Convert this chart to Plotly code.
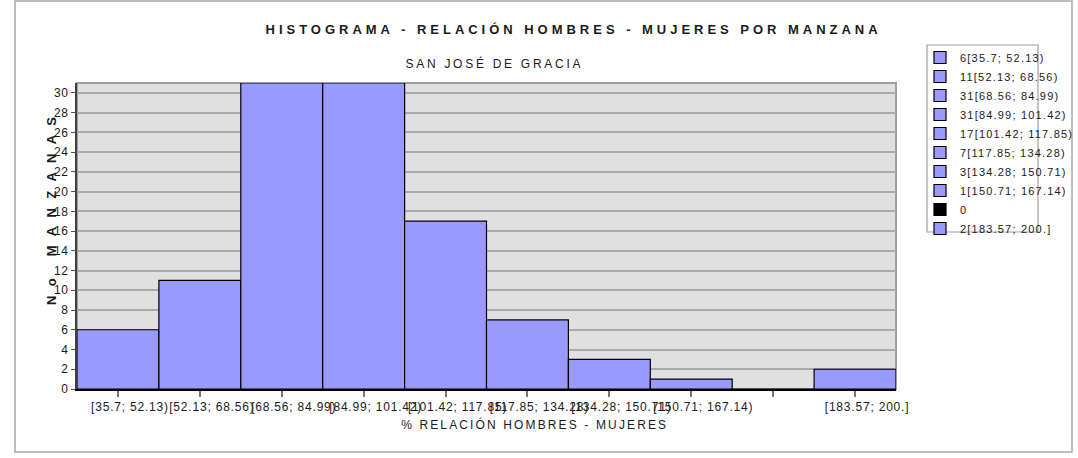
import plotly.graph_objects as go

# ---- data ----
categories = ["[35.7; 52.13)", "[52.13; 68.56)", "[68.56; 84.99)", "[84.99; 101.42)",
              "[101.42; 117.85)", "[117.85; 134.28)", "[134.28; 150.71)",
              "[150.71; 167.14)", "", "[183.57; 200.]"]
counts = [6, 11, 31, 31, 17, 7, 3, 1, 0, 2]
bar_colors = ["#9999ff"] * 8 + ["#000000", "#9999ff"]

title_text = "HISTOGRAMA - RELACIÓN HOMBRES - MUJERES POR MANZANA"
subtitle_text = "SAN JOSÉ DE GRACIA"
x_title = "% RELACIÓN HOMBRES - MUJERES"
y_title = "No MANZANAS"

FONT = "Liberation Sans, Arial, sans-serif"
W, H = 1078, 458
L, R, T, B = 77, 182, 83, 69
PW, PH = W - L - R, H - T - B


def xp(px):
    return (px - L) / PW


def yp(py):
    return (H - B - py) / PH


fig = go.Figure()
positions = list(range(len(categories)))
for i, (cat, c, col) in enumerate(zip(categories, counts, bar_colors)):
    fig.add_trace(go.Bar(
        x=[positions[i]], y=[c], width=1, name=f"{c}{cat}",
        marker=dict(color=col, line=dict(color="#000000", width=1.2)),
        showlegend=True,
    ))

ann = [
    dict(text=f"<b>{title_text}</b>", x=xp(574), y=yp(30), font=dict(size=13)),
    dict(text=subtitle_text, x=xp(495), y=yp(63), font=dict(size=12)),
    dict(text=x_title, x=xp(534), y=yp(424), font=dict(size=12)),
    dict(text=f"<b>{y_title}</b>", x=xp(51), y=yp(206), textangle=-90, font=dict(size=13)),
]
for a in ann:
    a.update(xref="paper", yref="paper", xanchor="center", yanchor="middle",
             showarrow=False)
    a["font"].update(family=FONT, color="#1a1a1a")

fig.update_layout(
    width=W, height=H,
    margin=dict(l=L, r=R, t=T, b=B, pad=0),
    paper_bgcolor="white",
    plot_bgcolor="#e0e0e0",
    barmode="overlay",
    font=dict(family=FONT, size=12, color="#1a1a1a"),
    annotations=ann,
    legend=dict(
        x=xp(920), y=yp(43), xanchor="left", yanchor="top",
        borderwidth=0, bgcolor="rgba(0,0,0,0)",
        font=dict(family=FONT, size=11, color="#1a1a1a"),
        traceorder="normal", itemclick=False, itemdoubleclick=False,
    ),
    xaxis=dict(
        range=[-0.5, len(categories) - 0.5],
        tickvals=positions, ticktext=categories,
        showgrid=False, zeroline=False,
        showline=True, linecolor="#000000", linewidth=1.5,
        ticks="outside", ticklen=6, tickcolor="#777777", tickwidth=1.5,
        tickfont=dict(family=FONT, size=12, color="#1a1a1a"),
        ticklabelshift=12, tickangle=0,
    ),
    yaxis=dict(
        range=[0, 31], dtick=2, tick0=0,
        showgrid=True, gridcolor="#aaaaaa", gridwidth=1.5,
        zeroline=False,
        showline=True, linecolor="#404040", linewidth=2,
        ticks="outside", ticklen=4, tickcolor="#555555",
        tickfont=dict(family=FONT, size=12, color="#1a1a1a"),
    ),
    shapes=[
        dict(type="rect", xref="paper", yref="paper", x0=0, x1=1, y0=0, y1=1,
             line=dict(color="#a0a0a0", width=2), layer="below"),
        dict(type="rect", xref="paper", yref="paper", x0=xp(15), x1=xp(1072),
             y0=yp(452), y1=yp(1), line=dict(color="#a8a8a8", width=1.5), layer="below"),
        dict(type="rect", xref="paper", yref="paper", x0=xp(927), x1=xp(1038),
             y0=yp(232), y1=yp(45), line=dict(color="#a0a0a0", width=1.2), layer="below"),
    ],
)

post = """
var gd = document.getElementById('{plot_id}');
document.body.style.margin = '0';
function fit(t, target){
  t.style.letterSpacing = '0px';
  var w = t.getComputedTextLength();
  var n = t.textContent.length;
  if (n > 1) { t.style.letterSpacing = ((target - w) / (n - 1)) + 'px'; }
}
function sp(){
  var a = gd.querySelectorAll('.annotation-text');
  var targets = [612, 175, 265, 188];
  a.forEach(function(t, i){ if (targets[i]) fit(t, targets[i]); });
  gd.querySelectorAll('.xtick text').forEach(function(t){ t.style.letterSpacing='0.8px'; });
  gd.querySelectorAll('.ytick text').forEach(function(t){ t.style.letterSpacing='0.6px'; });
  gd.querySelectorAll('.legendtext').forEach(function(t){ t.style.letterSpacing='1.2px'; });
  gd.querySelectorAll('.legend .scrollbox').forEach(function(e){ e.removeAttribute('clip-path'); });
  gd.querySelectorAll('.legend').forEach(function(e){ e.removeAttribute('clip-path'); });
}
sp();
gd.on('plotly_afterplot', sp);
"""

fig.write_html("out.html", config=dict(displayModeBar=False, responsive=False),
               post_script=post)
